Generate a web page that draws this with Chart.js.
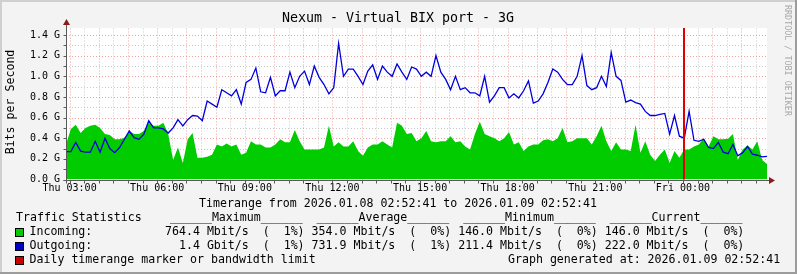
<!DOCTYPE html>
<html>
<head>
<meta charset="utf-8">
<script src="https://cdn.jsdelivr.net/npm/chart.js@4.4.1/dist/chart.umd.min.js"></script>
<style>
  html, body { margin: 0; padding: 0; background: #f3f3f3; }
  canvas { display: block; }
</style>
</head>
<body>
<canvas id="chart" width="797" height="274"></canvas>
<script>
// 10 minute samples from 2026.01.08 02:52:41, values in Gbit/s
const stepHours = 1 / 6;

const incoming = [
    0.34, 0.49, 0.53, 0.45, 0.50, 0.52, 0.53, 0.50, 0.44, 0.43, 0.39, 0.39,
    0.405, 0.47, 0.44, 0.44, 0.47, 0.55, 0.52, 0.52, 0.55, 0.44, 0.19, 0.31,
    0.16, 0.39, 0.45, 0.21, 0.21, 0.22, 0.24, 0.34, 0.32, 0.35, 0.32, 0.34,
    0.24, 0.26, 0.37, 0.34, 0.34, 0.31, 0.31, 0.34, 0.39, 0.36, 0.36, 0.48,
    0.37, 0.29, 0.29, 0.29, 0.29, 0.31, 0.52, 0.32, 0.36, 0.32, 0.32, 0.37,
    0.275, 0.23, 0.31, 0.34, 0.34, 0.37, 0.34, 0.31, 0.55, 0.52, 0.44, 0.45,
    0.37, 0.40, 0.47, 0.37, 0.36, 0.37, 0.37, 0.42, 0.36, 0.37, 0.32, 0.29,
    0.44, 0.56, 0.44, 0.42, 0.40, 0.37, 0.40, 0.46, 0.34, 0.36, 0.275, 0.32,
    0.34, 0.34, 0.38, 0.39, 0.37, 0.40, 0.50, 0.36, 0.37, 0.40, 0.40, 0.40,
    0.34, 0.42, 0.52, 0.37, 0.275, 0.36, 0.29, 0.29, 0.275, 0.53, 0.26, 0.37,
    0.24, 0.18, 0.24, 0.29, 0.16, 0.275, 0.21, 0.29, 0.29, 0.32, 0.34, 0.40,
    0.32, 0.42, 0.39, 0.39, 0.395, 0.44, 0.19, 0.29, 0.33, 0.29, 0.37, 0.19,
    0.15,
];

const outgoing = [
    0.27, 0.27, 0.36, 0.275, 0.265, 0.265, 0.37, 0.265, 0.40, 0.30, 0.26, 0.31,
    0.39, 0.47, 0.405, 0.39, 0.44, 0.57, 0.50, 0.50, 0.49, 0.45, 0.50, 0.58,
    0.52, 0.58, 0.62, 0.615, 0.57, 0.76, 0.73, 0.70, 0.87, 0.84, 0.81, 0.87,
    0.73, 0.94, 0.97, 1.08, 0.85, 0.84, 0.99, 0.81, 0.86, 0.86, 1.04, 0.89,
    1.00, 1.05, 0.92, 1.10, 0.99, 0.92, 0.83, 0.89, 1.32, 1.00, 1.07, 1.07,
    1.00, 0.92, 1.05, 1.11, 0.97, 1.10, 1.04, 1.00, 1.12, 1.04, 0.97, 1.09,
    1.07, 1.00, 1.04, 1.00, 1.20, 1.04, 0.97, 0.87, 1.00, 0.87, 0.89, 0.84,
    0.84, 0.81, 1.00, 0.75, 0.81, 0.89, 0.89, 0.79, 0.83, 0.79, 0.86, 0.955,
    0.74, 0.76, 0.83, 0.94, 1.07, 1.04, 0.97, 0.92, 0.92, 1.00, 1.20, 0.91,
    0.87, 0.89, 1.00, 0.90, 1.23, 1.00, 0.96, 0.75, 0.77, 0.745, 0.73, 0.66,
    0.62, 0.62, 0.63, 0.64, 0.44, 0.62, 0.42, 0.40, 0.66, 0.38, 0.37, 0.39,
    0.31, 0.30, 0.36, 0.265, 0.25, 0.34, 0.23, 0.26, 0.32, 0.245, 0.235, 0.22,
    0.225,
];

// hours after the start of the range
const firstFullHour = (7 * 60 + 19) / 3600;
const markerHours = [21 + firstFullHour]; // Fri 00:00
const xTickLabels = ['Thu 03:00', 'Thu 06:00', 'Thu 09:00', 'Thu 12:00', 'Thu 15:00', 'Thu 18:00', 'Thu 21:00', 'Fri 00:00'];
const yTickLabels = ['0.0 G', '0.2 G', '0.4 G', '0.6 G', '0.8 G', '1.0 G', '1.2 G', '1.4 G'];
const yMax = 1.468;

const legendRows = [
    ['Incoming:', '764.4 Mbit/s  (  1%) 354.0 Mbit/s  (  0%) 146.0 Mbit/s  (  0%) 146.0 Mbit/s  (  0%)', '#00cc00'],
    ['Outgoing:', '  1.4 Gbit/s  (  1%) 731.9 Mbit/s  (  1%) 211.4 Mbit/s  (  0%) 222.0 Mbit/s  (  0%)', '#0000cc'],
];

const mono = '"DejaVu Sans Mono", monospace';
const xGrid = Array.from({ length: 48 }, (_, k) => firstFullHour + k * 0.5);
const yGrid = Array.from({ length: 15 }, (_, k) => k / 10);

const rrdFrame = {
    id: 'rrdFrame',
    beforeDraw(chart) {
        const { ctx, chartArea: a } = chart;
        ctx.save();
        ctx.fillStyle = '#f3f3f3';
        ctx.fillRect(0, 0, 797, 274);
        ctx.fillStyle = '#cfcfcf';
        ctx.fillRect(0, 0, 797, 2);
        ctx.fillRect(0, 0, 2, 274);
        ctx.fillStyle = '#9c9c9c';
        ctx.fillRect(0, 272, 797, 2);
        ctx.fillRect(795, 0, 2, 274);
        ctx.fillStyle = '#fff';
        ctx.fillRect(a.left, a.top, a.right - a.left, a.bottom - a.top);
        ctx.restore();
    },
    beforeDatasetsDraw(chart) {
        const { ctx, chartArea: a, scales: { x, y } } = chart;
        ctx.save();
        ctx.lineWidth = 1;
        ctx.setLineDash([1, 2]);
        xGrid.forEach((h, k) => {
            const px = Math.round(x.getPixelForValue(h)) + 0.5;
            ctx.strokeStyle = k % 2 === 0 ? 'rgba(230,90,90,0.55)' : 'rgba(150,150,150,0.5)';
            ctx.beginPath();
            ctx.moveTo(px, a.bottom);
            ctx.lineTo(px, a.top);
            ctx.stroke();
        });
        yGrid.forEach((v, k) => {
            if (k === 0) return;
            const py = Math.round(y.getPixelForValue(v)) + 0.5;
            ctx.strokeStyle = k % 2 === 0 ? 'rgba(230,90,90,0.55)' : 'rgba(150,150,150,0.5)';
            ctx.beginPath();
            ctx.moveTo(a.left, py);
            ctx.lineTo(a.right, py);
            ctx.stroke();
        });
        ctx.restore();
    },
    afterDatasetsDraw(chart) {
        const { ctx, chartArea: a, scales: { x, y } } = chart;
        ctx.save();
        ctx.setLineDash([]);
        // daily marker
        ctx.fillStyle = '#e00000';
        markerHours.forEach((h) => {
            const px = Math.round(x.getPixelForValue(h));
            ctx.fillRect(px, a.top, 2, a.bottom - a.top);
        });
        // axes, small ticks and arrows
        const ax = Math.round(a.left) + 0.5;
        const ay = Math.round(y.getPixelForValue(0)) + 0.5;
        ctx.strokeStyle = '#5a5a5a';
        ctx.lineWidth = 1;
        ctx.beginPath();
        ctx.moveTo(ax, ay + 3);
        ctx.lineTo(ax, a.top - 5);
        ctx.moveTo(ax - 3, ay);
        ctx.lineTo(a.right + 3, ay);
        yGrid.forEach((v) => {
            const py = Math.round(y.getPixelForValue(v)) + 0.5;
            ctx.moveTo(ax - 3, py);
            ctx.lineTo(ax, py);
        });
        xGrid.forEach((h) => {
            const px = Math.round(x.getPixelForValue(h)) + 0.5;
            ctx.moveTo(px, ay);
            ctx.lineTo(px, ay + 3);
        });
        ctx.stroke();
        ctx.fillStyle = '#8b1a1a';
        ctx.beginPath();
        ctx.moveTo(ax - 3.5, a.top - 3);
        ctx.lineTo(ax + 3.5, a.top - 3);
        ctx.lineTo(ax, a.top - 9);
        ctx.closePath();
        ctx.fill();
        ctx.beginPath();
        ctx.moveTo(a.right + 2, ay - 3.5);
        ctx.lineTo(a.right + 2, ay + 3.5);
        ctx.lineTo(a.right + 8, ay);
        ctx.closePath();
        ctx.fill();
        ctx.restore();
    },
    afterDraw(chart) {
        const { ctx } = chart;
        ctx.save();
        ctx.fillStyle = '#000';
        ctx.textBaseline = 'middle';

        ctx.font = `13.3px ${mono}`;
        ctx.textAlign = 'center';
        ctx.fillText('Nexum - Virtual BIX port - 3G', 398, 19);

        ctx.font = `11.6px ${mono}`;
        ctx.save();
        ctx.translate(11, 102);
        ctx.rotate(-Math.PI / 2);
        ctx.fillText('Bits per Second', 0, 0);
        ctx.restore();

        ctx.fillText('Timerange from 2026.01.08 02:52:41 to 2026.01.09 02:52:41', 398, 204);
        ctx.textAlign = 'left';
        ctx.fillText('Traffic Statistics', 16, 218);
        ctx.fillText('______Maximum______  ______Average______  ______Minimum______  ______Current______', 170, 218);
        legendRows.forEach(([name, stats, color], i) => {
            const cy = 232 + i * 14;
            ctx.fillStyle = color;
            ctx.fillRect(15, cy - 4, 8, 8);
            ctx.strokeStyle = '#000';
            ctx.lineWidth = 1;
            ctx.strokeRect(15.5, cy - 3.5, 8, 8);
            ctx.fillStyle = '#000';
            ctx.fillText(name, 29.5, cy);
            ctx.fillText(stats, 165, cy);
        });
        ctx.fillStyle = '#cc0000';
        ctx.fillRect(15, 256, 8, 8);
        ctx.strokeRect(15.5, 256.5, 8, 8);
        ctx.fillStyle = '#000';
        ctx.fillText('Daily timerange marker or bandwidth limit', 29.5, 260);
        ctx.fillText('Graph generated at: 2026.01.09 02:52:41', 508, 260);

        ctx.fillStyle = '#a8a8a8';
        ctx.font = `8.4px ${mono}`;
        ctx.translate(787, 5);
        ctx.rotate(Math.PI / 2);
        ctx.textBaseline = 'middle';
        ctx.fillText('RRDTOOL / TOBI OETIKER', 0, 0);
        ctx.restore();
    },
};

new Chart(document.getElementById('chart'), {
    type: 'line',
    data: {
        datasets: [
            {
                label: 'Outgoing',
                data: outgoing.map((v, i) => ({ x: i * stepHours, y: v })),
                borderColor: '#0000dd',
                borderWidth: 1.3,
                pointRadius: 0,
                fill: false,
                tension: 0,
                order: 0,
            },
            {
                label: 'Incoming',
                data: incoming.map((v, i) => ({ x: i * stepHours, y: v })),
                borderWidth: 0,
                borderColor: 'rgba(0,0,0,0)',
                backgroundColor: '#00cc00',
                pointRadius: 0,
                fill: 'origin',
                tension: 0,
                order: 1,
            },
        ],
    },
    options: {
        responsive: false,
        devicePixelRatio: 1,
        animation: false,
        layout: { padding: { left: 0, right: 30, top: 28, bottom: 82.5 } },
        scales: {
            x: {
                type: 'linear',
                min: 0,
                max: 24,
                afterBuildTicks: (s) => { s.ticks = xGrid.map((v) => ({ value: v })); },
                afterFit: (s) => { s.height = 12; },
                grid: { display: false, drawTicks: false },
                border: { display: false },
                ticks: {
                    autoSkip: false,
                    maxRotation: 0,
                    padding: 3,
                    color: '#000',
                    font: { family: mono, size: 10 },
                    callback: (v, i) => (i % 6 === 0 ? xTickLabels[i / 6] : ''),
                },
            },
            y: {
                min: 0,
                max: yMax,
                afterBuildTicks: (s) => { s.ticks = yGrid.map((v) => ({ value: v })); },
                afterFit: (s) => { s.width = 66; },
                grid: { display: false, drawTicks: false },
                border: { display: false },
                ticks: {
                    padding: 6,
                    color: '#000',
                    font: { family: mono, size: 10 },
                    callback: (v, i) => (i % 2 === 0 ? yTickLabels[i / 2] : ''),
                },
            },
        },
        plugins: {
            legend: { display: false },
            tooltip: { enabled: false },
            title: { display: false },
        },
    },
    plugins: [rrdFrame],
});
</script>
</body>
</html>
